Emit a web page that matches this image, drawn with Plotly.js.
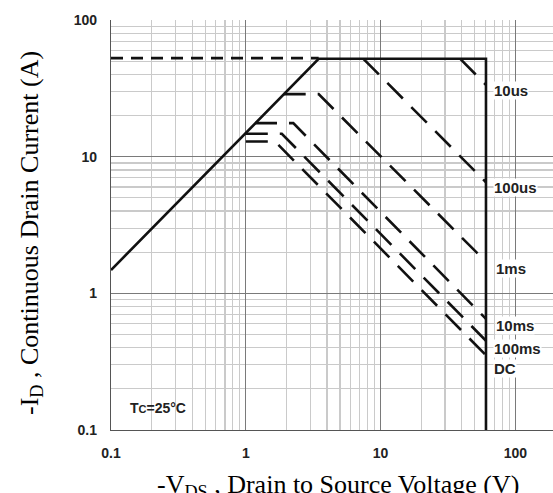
<!DOCTYPE html>
<html>
<head>
<meta charset="utf-8">
<script src="https://cdn.plot.ly/plotly-3.0.1.min.js"></script>
<style>html,body{margin:0;padding:0;background:#fff;}#chart{width:553px;height:493px;}</style>
</head>
<body>
<div id="chart"></div>
<script>
// ---- data ----
const tickVals = [0.1, 1, 10, 100];
const xTickText = ['0.1', '1', '10', '100'];
const yTickText = ['0.1', '1', '10', '100'];
const minorVals = [0.2,0.3,0.4,0.5,0.6,0.7,0.8,0.9,2,3,4,5,6,7,8,9,20,30,40,50,60,70,80,90,200];

// boundary: R_DS(on) limit, package current limit, V_DSS limit
const boundV = [0.1, 3.47, 60.5, 60.5];
const boundI = [1.48, 52, 52, 0.1];
// dashed current-limit extension
const limitV = [0.1, 3.47];
const limitI = [52.6, 52.6];
// pulse lines
const p10usV = [39, 60.5];          const p10usI = [52, 33.5];
const p100usV = [7.45, 60.5];       const p100usI = [52, 6.5];
const p1msV = [1.91, 3.47, 60.5];   const p1msI = [28.7, 28.7, 1.70];
const p10msV = [1.17, 2.25, 60.5];  const p10msI = [17.6, 17.6, 0.65];
const p100msV = [1.0, 1.85, 60.5];  const p100msI = [14.7, 14.7, 0.45];
const pDCV = [1.0, 1.65, 60.5];     const pDCI = [12.9, 12.9, 0.352];

const curveLabels = ['10us', '100us', '1ms', '10ms', '100ms', 'DC'];

// ---- layout helpers ----
const W = 553, H = 493, ML = 111, MR = 0, MT = 20, MB = 63;
const PW = W - ML - MR, PH = H - MT - MB;
const px = x => (x - ML) / PW;
const py = y => (H - MB - y) / PH;

const dashStyle = {color: '#111', width: 2.6, dash: '22px,12px'};
function dl(v, i) { return {x: v, y: i, mode: 'lines', line: dashStyle, hoverinfo: 'skip', showlegend: false}; }

const traces = [
  {x: limitV, y: limitI, mode: 'lines', line: {color: '#111', width: 2.6, dash: '12px,8px'}, showlegend: false},
  {x: boundV, y: boundI, mode: 'lines', line: {color: '#111', width: 2.6}, showlegend: false},
  dl(p10usV, p10usI), dl(p100usV, p100usI), dl(p1msV, p1msI),
  dl(p10msV, p10msI), dl(p100msV, p100msI), dl(pDCV, pDCI)
];

// label pixel positions (left edge x, centre y)
const labelPos = [[493, 90], [493, 187], [495, 268], [495, 325], [493, 348], [493, 368]];
const lblFont = {family: 'Liberation Sans, Arial, sans-serif', size: 15, color: '#222', weight: 'bold'};
const annotations = curveLabels.map((t, k) => ({
  text: '<b>' + t + '</b>', xref: 'paper', yref: 'paper', x: px(labelPos[k][0]), y: py(labelPos[k][1]),
  xanchor: 'left', yanchor: 'middle', showarrow: false, bgcolor: '#fff', borderpad: 0, font: lblFont
}));
annotations.push({
  text: '<b>T<span style="font-size:11px">C</span>=25°C</b>', xref: 'paper', yref: 'paper', x: px(128), y: py(408),
  xanchor: 'left', yanchor: 'middle', showarrow: false, font: {family: 'Liberation Sans, Arial, sans-serif', size: 14, color: '#222'}
});
annotations.push({
  text: '-I<sub>D</sub> , Continuous Drain Current (A)', xref: 'paper', yref: 'paper', x: px(31), y: py(233),
  xanchor: 'center', yanchor: 'middle', textangle: -90, showarrow: false,
  font: {family: 'Liberation Serif, Times New Roman, serif', size: 26, color: '#000'}
});
annotations.push({
  text: '-V<sub>DS</sub> , Drain to Source Voltage (V)', xref: 'paper', yref: 'paper', x: px(337.5), y: py(468),
  xanchor: 'center', yanchor: 'top', showarrow: false,
  font: {family: 'Liberation Serif, Times New Roman, serif', size: 26, color: '#000'}
});

const tickFont = {family: 'Liberation Sans, Arial, sans-serif', size: 14, color: '#222', weight: 'bold'};
const axisCommon = {
  type: 'log', tickmode: 'array', tickvals: tickVals, ticks: '', showgrid: true,
  gridcolor: '#7a7a7a', gridwidth: 1, zeroline: false, showline: true, linecolor: '#555', linewidth: 1.2,
  tickfont: tickFont, ticklabelstandoff: 10,
  minor: {tickmode: 'array', tickvals: minorVals, showgrid: true, gridcolor: '#cacaca', gridwidth: 1.2, ticks: ''}
};

const layout = {
  width: W, height: H, margin: {l: ML, r: MR, t: MT, b: MB, pad: 0},
  paper_bgcolor: '#fff', plot_bgcolor: '#fff', showlegend: false,
  xaxis: Object.assign({}, axisCommon, {range: [-1, -1 + PW / 134.8], ticktext: xTickText}),
  yaxis: Object.assign({}, axisCommon, {range: [-1, 2], ticktext: yTickText}),
  annotations: annotations
};

Plotly.newPlot('chart', traces, layout, {staticPlot: true, displayModeBar: false});
</script>
</body>
</html>
